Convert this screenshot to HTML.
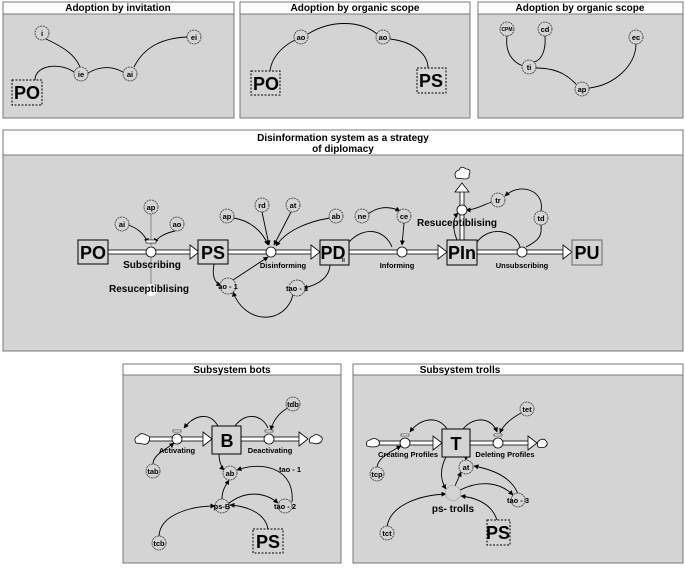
<!DOCTYPE html>
<html><head><meta charset="utf-8"><style>
html,body{margin:0;padding:0;background:#fff;}
svg{display:block;}
text{font-family:"Liberation Sans Narrow","Liberation Sans",sans-serif;font-weight:bold;fill:#000;}
.t{font-size:10px;text-anchor:middle;}
.s{font-size:7.5px;text-anchor:middle;}
.big{font-size:18px;text-anchor:middle;}
.c{fill:#d4d4d4;stroke:#333;stroke-width:0.8;stroke-dasharray:2,0.8;}
.ln{fill:none;stroke:#000;stroke-width:0.9;}
.box{fill:#d4d4d4;stroke:#000;stroke-width:1;}
.dbox{fill:#d4d4d4;stroke:#000;stroke-width:1;stroke-dasharray:2,1.5;}
.v{fill:#fff;stroke:#000;stroke-width:0.8;}
.pipe{fill:#fff;stroke:#000;stroke-width:0.8;}
</style></head><body>
<svg width="685" height="568" viewBox="0 0 685 568" xmlns="http://www.w3.org/2000/svg">
<defs>
<marker id="a" markerWidth="5" markerHeight="5" refX="4.5" refY="2.5" orient="auto" markerUnits="userSpaceOnUse"><path d="M0,0 L5,2.5 L0,5z" fill="#000"/></marker>
</defs>
<!-- Panel 1 -->
<rect x="3" y="2" width="231" height="116" fill="#d4d4d4" stroke="#777"/>
<rect x="3" y="2" width="231" height="12" fill="#fff" stroke="#777"/>
<text class="t" x="118" y="11">Adoption by  invitation</text>
<path class="ln" d="M35,80 C35,65 60,62 74,72"/>
<path class="ln" d="M88,73 C100,66 112,66 123,72"/>
<path class="ln" d="M134,67 C145,45 165,38 187,37"/>
<path class="ln" d="M46,39 C65,48 75,55 80,67"/>
<circle class="c" cx="42" cy="33" r="7"/><text class="s" x="42" y="36">i</text>
<circle class="c" cx="81" cy="74" r="7"/><text class="s" x="81" y="77">ie</text>
<circle class="c" cx="130" cy="74" r="7"/><text class="s" x="130" y="77">ai</text>
<circle class="c" cx="194" cy="37" r="7"/><text class="s" x="194" y="40">ei</text>
<rect class="dbox" x="12" y="80" width="30" height="25"/><text class="big" x="27" y="99">PO</text>
<!-- Panel 2 -->
<rect x="240" y="2" width="230" height="116" fill="#d4d4d4" stroke="#777"/>
<rect x="240" y="2" width="230" height="12" fill="#fff" stroke="#777"/>
<text class="t" x="355" y="11">Adoption by organic scope</text>
<path class="ln" d="M270,71 C272,55 285,45 295,40"/>
<path class="ln" d="M308,34 C330,20 360,20 377,34"/>
<path class="ln" d="M390,39 C415,42 428,55 428,68"/>
<circle class="c" cx="301" cy="37" r="7"/><text class="s" x="301" y="40">ao</text>
<circle class="c" cx="383" cy="37" r="7"/><text class="s" x="383" y="40">ao</text>
<rect class="dbox" x="251" y="71" width="29" height="24"/><text class="big" x="266" y="90">PO</text>
<rect class="dbox" x="417" y="68" width="29" height="25"/><text class="big" x="431" y="87">PS</text>
<!-- Panel 3 -->
<rect x="478" y="2" width="205" height="116" fill="#d4d4d4" stroke="#777"/>
<rect x="478" y="2" width="205" height="12" fill="#fff" stroke="#777"/>
<text class="t" x="580" y="11">Adoption by organic scope</text>
<path class="ln" d="M507,36 C505,52 512,62 523,66"/>
<path class="ln" d="M545,36 C546,50 542,60 534,62"/>
<path class="ln" d="M536,68 C560,68 570,78 576,84"/>
<path class="ln" d="M589,88 C615,85 636,65 636,44"/>
<circle class="c" cx="507" cy="29" r="7"/><text class="s" x="507" y="31" style="font-size:5px">CPM</text>
<circle class="c" cx="545" cy="29" r="7"/><text class="s" x="545" y="32">cd</text>
<circle class="c" cx="636" cy="37" r="7"/><text class="s" x="636" y="40">ec</text>
<circle class="c" cx="529" cy="67" r="7"/><text class="s" x="529" y="70">ti</text>
<circle class="c" cx="582" cy="89" r="7"/><text class="s" x="582" y="92">ap</text>

<!-- Main panel -->
<rect x="3" y="130" width="680" height="221" fill="#d4d4d4" stroke="#777"/>
<rect x="3" y="130" width="680" height="25" fill="#fff" stroke="#777"/>
<text class="t" x="343" y="141">Disinformation system as a strategy</text>
<text class="t" x="343" y="152">of diplomacy</text>
<rect class="pipe" x="108" y="250" width="84" height="4"/><path class="pipe" d="M190,245 L199,252 L190,259z"/>
<rect class="pipe" x="228" y="250" width="85" height="4"/><path class="pipe" d="M311,245 L320,252 L311,259z"/>
<rect class="pipe" x="349" y="250" width="91" height="4"/><path class="pipe" d="M438,245 L447,252 L438,259z"/>
<rect class="pipe" x="477" y="250" width="88" height="4"/><path class="pipe" d="M563,245 L572,252 L563,259z"/>
<rect class="pipe" x="460" y="190" width="4" height="50"/><path class="pipe" d="M455,192 L462,183 L469,192z"/>
<path d="M456,178 q-3,-6 3,-8 q2,-5 7,-1 q6,0 3,6 q1,4 -4,4z" fill="#fff" stroke="#000" stroke-width="0.8"/>
<line x1="151" y1="252" x2="151" y2="290" stroke="#888" stroke-width="1"/>
<line x1="151" y1="214" x2="151" y2="246" stroke="#888" stroke-width="1"/>
<path class="ln" d="M128,225 C138,228 145,235 148,243" marker-end="url(#a)"/>
<path class="ln" d="M175,231 C165,233 157,238 154,243" marker-end="url(#a)"/>
<path class="ln" d="M233,218 C250,220 263,232 268,245" marker-end="url(#a)"/>
<path class="ln" d="M262,212 L269,245" marker-end="url(#a)"/>
<path class="ln" d="M291,212 L274,245" marker-end="url(#a)"/>
<path class="ln" d="M330,218 C305,222 285,232 276,246" marker-end="url(#a)"/>
<path class="ln" d="M368,214 C380,205 392,207 400,211" marker-end="url(#a)"/>
<path class="ln" d="M404,223 L402,245" marker-end="url(#a)"/>
<path class="ln" d="M349,242 C365,225 385,230 392,247"/>
<path class="ln" d="M214,264 C212,275 214,283 221,285" marker-end="url(#a)"/>
<path class="ln" d="M233,280 L268,257" marker-end="url(#a)"/>
<path class="ln" d="M330,264 C330,276 320,285 303,288" marker-end="url(#a)"/>
<path class="ln" d="M293,295 C285,325 245,325 233,292" marker-end="url(#a)"/>
<path class="ln" d="M477,242 C490,225 515,230 520,247"/>
<path class="ln" d="M526,247 C540,240 542,235 541,225"/>
<path class="ln" d="M541,211 C545,190 520,182 505,196" marker-end="url(#a)"/>
<path class="ln" d="M492,202 C485,204 475,210 466,210" marker-end="url(#a)"/>
<path class="ln" d="M457,240 C452,228 453,218 458,213" marker-end="url(#a)"/>
<rect x="146" y="240" width="10" height="3" fill="#fff" stroke="#000" stroke-width="0.6"/>
<circle class="v" cx="151" cy="252" r="5"/>
<circle class="v" cx="271" cy="252" r="5"/>
<circle class="v" cx="402" cy="252" r="5"/>
<circle class="v" cx="522" cy="252" r="5"/>
<circle class="v" cx="462" cy="210" r="5"/>
<circle cx="151" cy="290" r="6" fill="#fff"/>
<circle class="c" cx="122" cy="224" r="7"/><text class="s" x="122" y="227">ai</text>
<circle class="c" cx="151" cy="207" r="7"/><text class="s" x="151" y="210">ap</text>
<circle class="c" cx="177" cy="224" r="7"/><text class="s" x="177" y="227">ao</text>
<circle class="c" cx="227" cy="216" r="7"/><text class="s" x="227" y="219">ap</text>
<circle class="c" cx="262" cy="205" r="7"/><text class="s" x="262" y="208">rd</text>
<circle class="c" cx="293" cy="205" r="7"/><text class="s" x="293" y="208">at</text>
<circle class="c" cx="336" cy="216" r="7"/><text class="s" x="336" y="219">ab</text>
<circle class="c" cx="362" cy="216" r="7"/><text class="s" x="362" y="219">ne</text>
<circle class="c" cx="404" cy="216" r="7"/><text class="s" x="404" y="219">ce</text>
<circle class="c" cx="498" cy="200" r="7"/><text class="s" x="498" y="203">tr</text>
<circle class="c" cx="541" cy="218" r="7"/><text class="s" x="541" y="221">td</text>
<circle class="c" cx="228" cy="286" r="8"/><text class="s" x="228" y="289">ao - 1</text>
<circle class="c" cx="297" cy="288" r="8"/><text class="s" x="297" y="291">tao - 1</text>
<rect class="box" x="78" y="240" width="30" height="24"/><text class="big" x="93" y="259">PO</text>
<rect class="box" x="198" y="240" width="30" height="24"/><text class="big" x="213" y="259">PS</text>
<rect class="box" x="320" y="240" width="29" height="25"/><text class="big" x="333" y="259">PD</text><text x="342" y="262" style="font-size:5px">II</text>
<rect class="box" x="447" y="240" width="30" height="25"/><text class="big" x="462" y="259">PIn</text>
<rect class="box" x="572" y="240" width="30" height="25" style="stroke:#666"/><text class="big" x="587" y="259">PU</text>
<text class="t" x="152" y="268">Subscribing</text>
<text class="t" x="149" y="292">Resuceptiblising</text>
<text class="s" x="283" y="268">Disinforming</text>
<text class="s" x="397" y="268">Informing</text>
<text class="s" x="522" y="268">Unsubscribing</text>
<text class="t" x="457" y="226">Resuceptiblising</text>

<!-- Bots panel -->
<rect x="123" y="364" width="218" height="199" fill="#d4d4d4" stroke="#777"/>
<rect x="123" y="364" width="218" height="11" fill="#fff" stroke="#777"/>
<text class="t" x="232" y="373">Subsystem bots</text>
<rect class="pipe" x="148" y="437" width="56" height="4"/><path class="pipe" d="M203,432 L212,439 L203,446z"/>
<rect class="pipe" x="241" y="437" width="59" height="4"/><path class="pipe" d="M299,432 L308,439 L299,446z"/>
<path d="M136,443 q-3,-5 2,-7 q3,-4 8,-1 q5,1 3,6 q-1,4 -6,3z" fill="#fff" stroke="#000" stroke-width="0.8"/>
<path d="M310,443 q-2,-5 3,-7 q3,-3 7,0 q4,2 1,6 q-4,3 -8,1z" fill="#fff" stroke="#000" stroke-width="0.8"/>
<rect x="173" y="430" width="8" height="2" fill="#fff" stroke="#000" stroke-width="0.5"/>
<rect x="265" y="430" width="8" height="2" fill="#fff" stroke="#000" stroke-width="0.5"/>
<path class="ln" d="M218,426 C210,412 195,414 184,428" marker-end="url(#a)"/>
<path class="ln" d="M235,426 C245,412 262,414 268,428"/>
<path class="ln" d="M288,408 C280,412 273,420 271,430" marker-end="url(#a)"/>
<path class="ln" d="M153,464 C153,455 165,450 174,443" marker-end="url(#a)"/>
<path class="ln" d="M219,454 C219,462 222,468 224,470" marker-end="url(#a)"/>
<path class="ln" d="M292,502 C295,470 265,460 237,470" marker-end="url(#a)"/>
<path class="ln" d="M222,499 C222,490 226,485 229,480" marker-end="url(#a)"/>
<path class="ln" d="M228,504 C245,490 265,492 278,503" marker-end="url(#a)"/>
<path class="ln" d="M159,536 C160,515 190,506 215,506" marker-end="url(#a)"/>
<path class="ln" d="M268,529 C265,512 245,506 230,505" marker-end="url(#a)"/>
<circle class="v" cx="177" cy="439" r="5"/>
<circle class="v" cx="269" cy="439" r="5"/>
<rect class="box" x="212" y="426" width="29" height="28"/><text class="big" x="227" y="447">B</text>
<text class="s" x="177" y="453">Activating</text>
<text class="s" x="270" y="453">Deactivating</text>
<circle class="c" cx="153" cy="471" r="7"/><text class="s" x="153" y="474">tab</text>
<circle class="c" cx="293" cy="404" r="7"/><text class="s" x="293" y="407">tdb</text>
<circle class="c" cx="230" cy="473" r="7"/><text class="s" x="230" y="476">ab</text>
<text class="s" x="290" y="472">tao - 1</text>
<circle class="c" cx="222" cy="506" r="7"/><text class="s" x="222" y="509">ps-B</text>
<circle class="c" cx="285" cy="506" r="7"/><text class="s" x="285" y="509">tao - 2</text>
<circle class="c" cx="159" cy="543" r="7"/><text class="s" x="159" y="546">tcb</text>
<rect class="dbox" x="253" y="529" width="30" height="24"/><text class="big" x="268" y="548">PS</text>

<!-- Trolls panel -->
<rect x="353" y="364" width="330" height="199" fill="#d4d4d4" stroke="#777"/>
<rect x="353" y="364" width="330" height="11" fill="#fff" stroke="#777"/>
<text class="t" x="460" y="373">Subsystem trolls</text>
<rect class="pipe" x="379" y="441" width="55" height="4"/><path class="pipe" d="M433,436 L442,443 L433,450z"/>
<rect class="pipe" x="470" y="441" width="60" height="4"/><path class="pipe" d="M528,436 L537,443 L528,450z"/>
<path d="M367,446 q-2,-5 3,-6 q4,-3 8,0 q3,3 0,6 q-5,2 -11,0z" fill="#fff" stroke="#000" stroke-width="0.8"/>
<path d="M538,447 q-2,-5 2,-7 q4,-2 6,1 q3,3 -1,6 q-3,1 -7,0z" fill="#fff" stroke="#000" stroke-width="0.8"/>
<rect x="401" y="434" width="8" height="2" fill="#fff" stroke="#000" stroke-width="0.5"/>
<rect x="494" y="434" width="8" height="2" fill="#fff" stroke="#000" stroke-width="0.5"/>
<path class="ln" d="M447,429 C438,415 420,418 410,432" marker-end="url(#a)"/>
<path class="ln" d="M463,429 C475,415 492,418 497,432" marker-end="url(#a)"/>
<path class="ln" d="M521,413 C512,418 503,425 500,433" marker-end="url(#a)"/>
<path class="ln" d="M377,467 C378,458 390,452 401,446" marker-end="url(#a)"/>
<path class="ln" d="M466,457 L466,460" marker-end="url(#a)"/>
<path class="ln" d="M446,457 C440,468 440,480 446,489" marker-end="url(#a)"/>
<path class="ln" d="M455,486 L461,472" marker-end="url(#a)"/>
<path class="ln" d="M460,490 C480,480 500,482 513,495" marker-end="url(#a)"/>
<path class="ln" d="M518,494 C512,478 495,470 474,466" marker-end="url(#a)"/>
<path class="ln" d="M387,527 C390,505 420,495 446,494" marker-end="url(#a)"/>
<path class="ln" d="M497,520 C492,505 478,498 461,496" marker-end="url(#a)"/>
<circle class="v" cx="405" cy="443" r="5"/>
<circle class="v" cx="498" cy="443" r="5"/>
<rect class="box" x="442" y="429" width="28" height="28"/><text class="big" x="456" y="450">T</text>
<text class="s" x="408" y="457">Creating Profiles</text>
<text class="s" x="505" y="457">Deleting Profiles</text>
<circle class="c" cx="527" cy="409" r="7"/><text class="s" x="527" y="412">tet</text>
<circle class="c" cx="377" cy="474" r="7"/><text class="s" x="377" y="477">tcp</text>
<circle class="c" cx="466" cy="467" r="7"/><text class="s" x="466" y="470">at</text>
<circle cx="453" cy="493" r="7.5" fill="#d4d4d4" stroke="#999" stroke-width="0.6"/>
<text class="t" x="453" y="512">ps- trolls</text>
<circle class="c" cx="518" cy="500" r="7"/><text class="s" x="518" y="503">tao - 3</text>
<circle class="c" cx="387" cy="533" r="7"/><text class="s" x="387" y="536">tct</text>
<rect class="dbox" x="487" y="520" width="23" height="25"/><text class="big" x="498" y="539">PS</text>
</svg>
</body></html>
